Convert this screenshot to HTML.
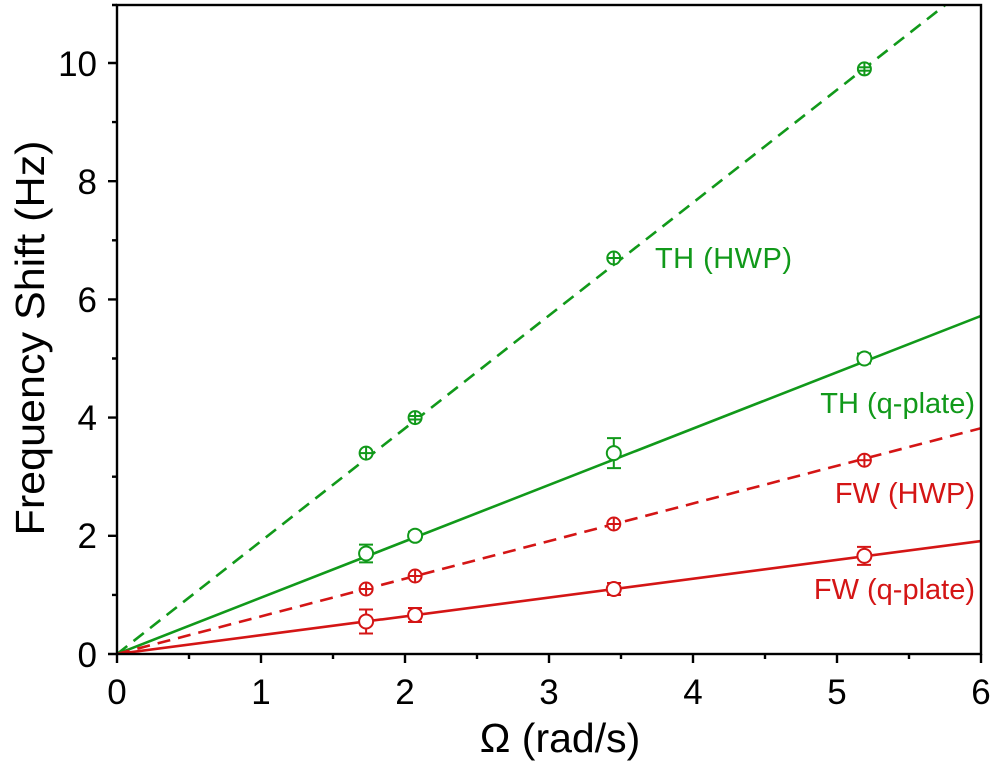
<!DOCTYPE html>
<html><head><style>
body{margin:0;background:#fff;}
svg{display:block;font-family:"Liberation Sans",Arial,sans-serif;}
</style></head><body>
<svg width="1004" height="768" viewBox="0 0 1004 768">
<defs><clipPath id="c"><rect x="117" y="5" width="864" height="649"/></clipPath></defs>
<g clip-path="url(#c)" stroke-width="2.6" fill="none">
<line x1="117" y1="654" x2="981" y2="-23" stroke="#11991a" stroke-dasharray="13,8"/>
<line x1="117" y1="654" x2="981" y2="315.9" stroke="#11991a"/>
<line x1="117" y1="654" x2="981" y2="428.2" stroke="#d41515" stroke-dasharray="13,8"/>
<line x1="117" y1="654" x2="981" y2="541.1" stroke="#d41515"/>
</g>
<g stroke="#11991a" stroke-width="2" fill="#fff">
<g><circle cx="366.1" cy="453.1" r="6.5"/><line x1="366.1" y1="446.6" x2="366.1" y2="459.6"/><line x1="359.6" y1="453.1" x2="372.6" y2="453.1"/></g>
<g><circle cx="415.1" cy="417.6" r="6.5"/><line x1="415.1" y1="411.1" x2="415.1" y2="424.1"/><line x1="409" y1="416" x2="421" y2="416"/><line x1="409" y1="419.5" x2="421" y2="419.5"/></g>
<g><circle cx="613.8" cy="258" r="6.5"/><line x1="613.8" y1="251.5" x2="613.8" y2="264.5"/><line x1="607.3" y1="258" x2="620.3" y2="258"/></g>
<g><circle cx="864.4" cy="68.9" r="6.5"/><line x1="864.4" y1="62.4" x2="864.4" y2="75.4"/><line x1="858" y1="67.3" x2="871" y2="67.3"/><line x1="858" y1="70.7" x2="871" y2="70.7"/></g>
<path d="M366.1 544.6V562.4M359 544.6h14M359 562.4h14M415.1 531.8V539.8M408 531.8h14M408 539.8h14M613.8 438.1V468.1M607 438.1h14M607 468.1h14M864.4 353.5V363.5M857 353.5h14M857 363.5h14" fill="none"/>
<circle cx="366.1" cy="553.5" r="7"/><circle cx="415.1" cy="535.8" r="7"/><circle cx="613.8" cy="453.1" r="7"/><circle cx="864.4" cy="358.5" r="7"/>
</g>
<g stroke="#d41515" stroke-width="2" fill="#fff">
<g><circle cx="366.1" cy="589" r="6.5"/><line x1="366.1" y1="582.5" x2="366.1" y2="595.5"/><line x1="359.6" y1="589" x2="372.6" y2="589"/></g>
<g><circle cx="415.1" cy="576" r="6.5"/><line x1="415.1" y1="569.5" x2="415.1" y2="582.5"/><line x1="408.6" y1="576" x2="421.6" y2="576"/></g>
<g><circle cx="613.8" cy="524" r="6.5"/><line x1="613.8" y1="517.5" x2="613.8" y2="530.5"/><line x1="607.3" y1="524" x2="620.3" y2="524"/></g>
<g><circle cx="864.4" cy="460.2" r="6.5"/><line x1="864.4" y1="453.7" x2="864.4" y2="466.7"/><line x1="857.9" y1="460.2" x2="870.9" y2="460.2"/></g>
<path d="M366.1 609.5V633.5M359 609.5h14M359 633.5h14M415.1 608V622M408 608h14M408 622h14M613.8 583V595M607 583h14M607 595h14M864.4 546.9V564.9M857 546.9h14M857 564.9h14" fill="none"/>
<circle cx="366.1" cy="621.5" r="7"/><circle cx="415.1" cy="615" r="7"/><circle cx="613.8" cy="589" r="7"/><circle cx="864.4" cy="555.9" r="7"/>
</g>
<g font-size="29">
<text x="655" y="268" fill="#11991a" textLength="137">TH (HWP)</text>
<text x="975" y="413" fill="#11991a" text-anchor="end">TH (q-plate)</text>
<text x="975" y="503" fill="#d41515" text-anchor="end">FW (HWP)</text>
<text x="975" y="599" fill="#d41515" text-anchor="end">FW (q-plate)</text>
</g>
<g stroke="#000" stroke-width="2.4" fill="none">
<rect x="117" y="5" width="864" height="649"/>
<path d="M117 654v9M189 654v5M261 654v9M333 654v5M405 654v9M477 654v5M549 654v9M621 654v5M693 654v9M765 654v5M837 654v9M909 654v5M981 654v9"/>
<path d="M117 654h-9M117 594.9h-5M117 535.8h-9M117 476.7h-5M117 417.6h-9M117 358.5h-5M117 299.4h-9M117 240.3h-5M117 181.2h-9M117 122.1h-5M117 63h-9M117 5h-5"/>
</g>
<g font-size="35" fill="#000">
<g text-anchor="middle">
<text x="117" y="704">0</text><text x="261" y="704">1</text><text x="405" y="704">2</text><text x="549" y="704">3</text><text x="693" y="704">4</text><text x="837" y="704">5</text><text x="981" y="704">6</text>
</g>
<g text-anchor="end">
<text x="97" y="667">0</text><text x="97" y="548">2</text><text x="97" y="430">4</text><text x="97" y="312">6</text><text x="97" y="194">8</text><text x="97" y="76">10</text>
</g>
<text x="560" y="752" text-anchor="middle" font-size="41">Ω (rad/s)</text>
<text transform="translate(44,338) rotate(-90)" text-anchor="middle" font-size="41" textLength="395" lengthAdjust="spacingAndGlyphs">Frequency Shift (Hz)</text>
</g>
</svg>
</body></html>
